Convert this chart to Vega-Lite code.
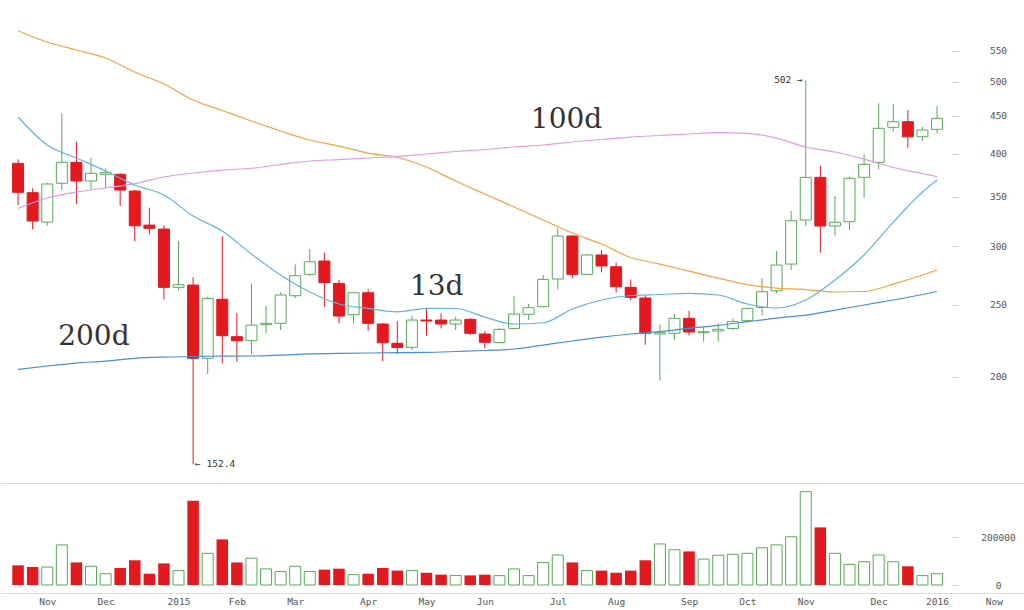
{
  "$schema": "https://vega.github.io/schema/vega-lite/v6.json",
  "padding": 0,
  "spacing": 0,
  "background": "white",
  "config": {
    "view": {"stroke": null},
    "axis": {"labelFont": "DejaVu Sans Mono", "labelFontSize": 9.5, "labelColor": "#555", "domainColor": "#ddd", "tickColor": "#ccc", "grid": false, "title": null}
  },
  "datasets": {
    "candles": [
      {"i":0,"o":388.0,"h":392.9,"l":340.9,"c":354.6,"v":82000},
      {"i":1,"o":354.2,"h":359.0,"l":316.1,"c":324.4,"v":75000},
      {"i":2,"o":323.3,"h":365.3,"l":319.6,"c":363.9,"v":75000},
      {"i":3,"o":364.7,"h":453.2,"l":357.1,"c":389.2,"v":167000},
      {"i":4,"o":389.2,"h":415.0,"l":342.0,"c":367.3,"v":94000},
      {"i":5,"o":367.3,"h":394.8,"l":357.9,"c":376.2,"v":78000},
      {"i":6,"o":375.0,"h":382.1,"l":359.0,"c":376.9,"v":47000},
      {"i":7,"o":375.0,"h":376.2,"l":339.8,"c":357.1,"v":71000},
      {"i":8,"o":356.0,"h":357.0,"l":304.8,"c":319.6,"v":103000},
      {"i":9,"o":320.3,"h":338.1,"l":311.2,"c":317.1,"v":47000},
      {"i":10,"o":316.4,"h":320.3,"l":254.4,"c":264.0,"v":90000},
      {"i":11,"o":264.0,"h":304.8,"l":261.8,"c":266.1,"v":60000},
      {"i":12,"o":265.9,"h":272.3,"l":152.4,"c":211.8,"v":351000},
      {"i":13,"o":211.8,"h":256.4,"l":201.7,"c":255.1,"v":132000},
      {"i":14,"o":254.4,"h":309.6,"l":208.5,"c":227.2,"v":190000},
      {"i":15,"o":226.5,"h":244.0,"l":209.5,"c":223.7,"v":94000},
      {"i":16,"o":223.7,"h":267.3,"l":214.6,"c":234.8,"v":112000},
      {"i":17,"o":235.1,"h":249.1,"l":228.9,"c":236.1,"v":67000},
      {"i":18,"o":236.1,"h":259.9,"l":231.2,"c":257.8,"v":56000},
      {"i":19,"o":257.2,"h":283.5,"l":255.1,"c":273.7,"v":78000},
      {"i":20,"o":274.9,"h":297.4,"l":273.4,"c":285.8,"v":56000},
      {"i":21,"o":286.5,"h":294.0,"l":248.6,"c":268.0,"v":64000},
      {"i":22,"o":267.3,"h":270.1,"l":236.1,"c":241.5,"v":68000},
      {"i":23,"o":242.5,"h":260.4,"l":236.1,"c":259.6,"v":43000},
      {"i":24,"o":259.6,"h":262.4,"l":230.7,"c":236.1,"v":47000},
      {"i":25,"o":235.6,"h":236.4,"l":210.0,"c":222.3,"v":71000},
      {"i":26,"o":221.9,"h":237.8,"l":214.6,"c":219.1,"v":60000},
      {"i":27,"o":219.1,"h":241.7,"l":217.3,"c":238.5,"v":60000},
      {"i":28,"o":238.5,"h":247.3,"l":227.2,"c":237.8,"v":51000},
      {"i":29,"o":238.5,"h":243.5,"l":232.4,"c":235.6,"v":43000},
      {"i":30,"o":235.6,"h":241.0,"l":231.2,"c":238.5,"v":40000},
      {"i":31,"o":239.0,"h":239.8,"l":227.7,"c":228.9,"v":40000},
      {"i":32,"o":228.4,"h":230.4,"l":218.4,"c":222.6,"v":43000},
      {"i":33,"o":222.4,"h":232.9,"l":221.9,"c":231.7,"v":39000},
      {"i":34,"o":232.4,"h":257.0,"l":231.7,"c":243.0,"v":67000},
      {"i":35,"o":242.8,"h":250.7,"l":238.5,"c":247.8,"v":39000},
      {"i":36,"o":248.6,"h":274.3,"l":248.1,"c":270.6,"v":94000},
      {"i":37,"o":270.9,"h":317.1,"l":262.4,"c":309.6,"v":125000},
      {"i":38,"o":309.6,"h":310.6,"l":271.5,"c":274.9,"v":94000},
      {"i":39,"o":274.9,"h":292.8,"l":274.3,"c":291.9,"v":60000},
      {"i":40,"o":291.9,"h":296.4,"l":276.6,"c":282.1,"v":60000},
      {"i":41,"o":281.4,"h":285.0,"l":259.9,"c":264.5,"v":51000},
      {"i":42,"o":264.0,"h":270.6,"l":253.8,"c":255.9,"v":60000},
      {"i":43,"o":255.4,"h":257.8,"l":220.9,"c":228.9,"v":103000},
      {"i":44,"o":228.4,"h":235.2,"l":197.7,"c":229.3,"v":171000},
      {"i":45,"o":228.9,"h":243.0,"l":224.1,"c":239.8,"v":147000},
      {"i":46,"o":239.8,"h":245.4,"l":227.3,"c":229.8,"v":140000},
      {"i":47,"o":229.3,"h":233.6,"l":223.0,"c":230.0,"v":108000},
      {"i":48,"o":230.5,"h":236.1,"l":223.0,"c":231.7,"v":124000},
      {"i":49,"o":232.4,"h":239.5,"l":231.2,"c":237.3,"v":128000},
      {"i":50,"o":238.0,"h":247.6,"l":236.8,"c":247.3,"v":132000},
      {"i":51,"o":248.1,"h":271.5,"l":242.2,"c":260.4,"v":155000},
      {"i":52,"o":261.2,"h":295.5,"l":259.1,"c":282.9,"v":167000},
      {"i":53,"o":283.8,"h":334.6,"l":278.6,"c":324.7,"v":201000},
      {"i":54,"o":325.4,"h":502.0,"l":319.6,"c":371.5,"v":389000},
      {"i":55,"o":371.5,"h":385.1,"l":294.0,"c":319.4,"v":240000},
      {"i":56,"o":319.4,"h":350.5,"l":309.9,"c":323.1,"v":132000},
      {"i":57,"o":323.7,"h":372.2,"l":315.4,"c":370.4,"v":86000},
      {"i":58,"o":371.5,"h":399.0,"l":348.7,"c":386.8,"v":97000},
      {"i":59,"o":389.2,"h":467.5,"l":380.9,"c":432.6,"v":125000},
      {"i":60,"o":433.9,"h":466.5,"l":428.1,"c":441.5,"v":97000},
      {"i":61,"o":441.5,"h":457.9,"l":407.3,"c":421.4,"v":78000},
      {"i":62,"o":421.4,"h":434.7,"l":416.2,"c":430.3,"v":39000},
      {"i":63,"o":431.2,"h":463.6,"l":425.9,"c":446.2,"v":47000}
    ],
    "ma": [
      {"i":0,"ma13":448,"ma50":585.7,"ma100":337.4,"ma200":204.6},
      {"i":2,"ma13":410.7,"ma50":565.5,"ma100":348.4,"ma200":206.8},
      {"i":4,"ma13":394.5,"ma50":551.7,"ma100":354.9,"ma200":208.7},
      {"i":6,"ma13":378.9,"ma50":538.1,"ma100":359.4,"ma200":210},
      {"i":8,"ma13":362.7,"ma50":515.2,"ma100":364.4,"ma200":211.8},
      {"i":10,"ma13":351.6,"ma50":496.4,"ma100":371.9,"ma200":212.6},
      {"i":12,"ma13":329.4,"ma50":472.3,"ma100":376.5,"ma200":213},
      {"i":14,"ma13":314.4,"ma50":457.2,"ma100":380,"ma200":213.2},
      {"i":16,"ma13":292.8,"ma50":442.5,"ma100":382.1,"ma200":213.3},
      {"i":18,"ma13":274.3,"ma50":429,"ma100":386.6,"ma200":213.9},
      {"i":20,"ma13":260.2,"ma50":417.1,"ma100":390.8,"ma200":214.7},
      {"i":22,"ma13":250.7,"ma50":409.4,"ma100":392.6,"ma200":215.1},
      {"i":24,"ma13":247.3,"ma50":400.6,"ma100":394.5,"ma200":215.3},
      {"i":26,"ma13":244.7,"ma50":395.1,"ma100":396.3,"ma200":215.5},
      {"i":28,"ma13":247.3,"ma50":383.6,"ma100":399.4,"ma200":215.7},
      {"i":30,"ma13":247.2,"ma50":367.3,"ma100":402.5,"ma200":216.3},
      {"i":32,"ma13":240.7,"ma50":352.7,"ma100":405,"ma200":217},
      {"i":34,"ma13":235.6,"ma50":338.8,"ma100":408.2,"ma200":218},
      {"i":36,"ma13":236.5,"ma50":325.4,"ma100":410.7,"ma200":220.7},
      {"i":38,"ma13":246.8,"ma50":312.5,"ma100":414.6,"ma200":223.5},
      {"i":40,"ma13":253.8,"ma50":302,"ma100":417.8,"ma200":226.2},
      {"i":42,"ma13":257.4,"ma50":289.6,"ma100":421,"ma200":228.4},
      {"i":44,"ma13":258.2,"ma50":283.8,"ma100":423,"ma200":230.1},
      {"i":46,"ma13":259.1,"ma50":277.7,"ma100":425,"ma200":232.4},
      {"i":48,"ma13":257.8,"ma50":271.7,"ma100":426.7,"ma200":234.6},
      {"i":50,"ma13":250.7,"ma50":266.3,"ma100":425.7,"ma200":237.3},
      {"i":52,"ma13":247.6,"ma50":263.4,"ma100":419.7,"ma200":240},
      {"i":54,"ma13":253.8,"ma50":262.2,"ma100":408.2,"ma200":242.2},
      {"i":56,"ma13":270.1,"ma50":260.2,"ma100":401.9,"ma200":246},
      {"i":58,"ma13":291.9,"ma50":260.6,"ma100":393.2,"ma200":249.9},
      {"i":60,"ma13":323.3,"ma50":266.7,"ma100":383,"ma200":253.8},
      {"i":62,"ma13":354.9,"ma50":274.3,"ma100":375.9,"ma200":258.2},
      {"i":63,"ma13":368.4,"ma50":278.6,"ma100":372.4,"ma200":260.6}
    ],
    "labels": [
      {"i":5.2,"p":226.2,"t":"200d"},
      {"i":28.7,"p":264.2,"t":"13d"},
      {"i":37.6,"p":443.9,"t":"100d"}
    ],
    "notes": [
      {"i":12,"p":152.4,"t":"← 152.4"},
      {"i":54,"p":502,"t":"502 →"}
    ]
  },
  "vconcat": [
    {
      "width": 1024,
      "height": 483,
      "layer": [
        {
          "data": {"name": "candles"},
          "mark": {"type": "rule", "strokeWidth": 1},
          "encoding": {
            "x": {"field": "i", "type": "quantitative", "scale": {"domain": [-0.896, 68.62], "nice": false, "zero": false}, "axis": {"labels": false, "ticks": false, "domain": true, "domainColor": "#ddd", "title": null}},
            "y": {"field": "l", "type": "quantitative", "scale": {"type": "log", "domain": [143.8, 644.3], "nice": false, "zero": false}, "axis": {"orient": "right", "offset": -72, "values": [200,250,300,350,400,450,500,550], "tickSize": 6, "tickColor": "#ccc", "domain": false, "labelAlign": "center", "labelBaseline": "middle", "labelPadding": 40, "title": null}},
            "y2": {"field": "h"},
            "color": {"condition": {"test": "datum.c >= datum.o", "value": "#5aa95a"}, "value": "#e3191f"}
          }
        },
        {
          "data": {"name": "candles"},
          "mark": {"type": "bar", "width": 11, "strokeWidth": 1},
          "encoding": {
            "x": {"field": "i", "type": "quantitative"},
            "y": {"field": "o", "type": "quantitative"},
            "y2": {"field": "c"},
            "fill": {"condition": {"test": "datum.c >= datum.o", "value": "white"}, "value": "#e3191f"},
            "stroke": {"condition": {"test": "datum.c >= datum.o", "value": "#5aa95a"}, "value": "#e3191f"}
          }
        },
        {
          "data": {"name": "ma"},
          "mark": {"type": "line", "color": "#f4a340", "strokeWidth": 1.2, "interpolate": "monotone"},
          "encoding": {"x": {"field": "i", "type": "quantitative"}, "y": {"field": "ma50", "type": "quantitative"}}
        },
        {
          "data": {"name": "ma"},
          "mark": {"type": "line", "color": "#e39be6", "strokeWidth": 1.2, "interpolate": "monotone"},
          "encoding": {"x": {"field": "i", "type": "quantitative"}, "y": {"field": "ma100", "type": "quantitative"}}
        },
        {
          "data": {"name": "ma"},
          "mark": {"type": "line", "color": "#4a8fd3", "strokeWidth": 1.2, "interpolate": "monotone"},
          "encoding": {"x": {"field": "i", "type": "quantitative"}, "y": {"field": "ma200", "type": "quantitative"}}
        },
        {
          "data": {"name": "ma"},
          "mark": {"type": "line", "color": "#5fb6e4", "strokeWidth": 1.2, "interpolate": "monotone"},
          "encoding": {"x": {"field": "i", "type": "quantitative"}, "y": {"field": "ma13", "type": "quantitative"}}
        },
        {
          "data": {"name": "labels"},
          "mark": {"type": "text", "font": "DejaVu Serif", "fontSize": 28, "color": "#333", "align": "center", "baseline": "middle"},
          "encoding": {"x": {"field": "i", "type": "quantitative"}, "y": {"field": "p", "type": "quantitative"}, "text": {"field": "t"}}
        },
        {
          "data": {"name": "notes"},
          "transform": [{"filter": "datum.i < 30"}],
          "mark": {"type": "text", "font": "DejaVu Sans Mono", "fontSize": 9.5, "color": "#333", "align": "left", "baseline": "middle", "dx": 2},
          "encoding": {"x": {"field": "i", "type": "quantitative"}, "y": {"field": "p", "type": "quantitative"}, "text": {"field": "t"}}
        },
        {
          "data": {"name": "notes"},
          "transform": [{"filter": "datum.i > 30"}],
          "mark": {"type": "text", "font": "DejaVu Sans Mono", "fontSize": 9.5, "color": "#333", "align": "right", "baseline": "middle", "dx": -3},
          "encoding": {"x": {"field": "i", "type": "quantitative"}, "y": {"field": "p", "type": "quantitative"}, "text": {"field": "t"}}
        }
      ]
    },
    {
      "width": 1024,
      "height": 110,
      "resolve": {"axis": {"x": "independent"}},
      "layer": [
        {
          "data": {"name": "candles"},
          "transform": [{"filter": "datum.c >= datum.o"}],
          "mark": {"type": "bar", "width": 11, "fill": "white", "stroke": "#5aa95a", "strokeWidth": 1},
          "encoding": {
            "x": {"field": "i", "type": "quantitative", "scale": {"domain": [-0.896, 68.62], "nice": false, "zero": false}, "axis": {"orient": "bottom", "values": [2,6,11,15,19,24,28,32,37,41,46,50,54,59,63,66.9], "labelExpr": "['Nov','Dec','2015','Feb','Mar','Apr','May','Jun','Jul','Aug','Sep','Oct','Nov','Dec','2016','Now'][indexof([2,6,11,15,19,24,28,32,37,41,46,50,54,59,63,66.9], datum.value)]", "ticks": false, "tickSize": 0, "labelPadding": 8, "labelBaseline": "middle", "labelAlign": "center", "labelFlush": false, "labelOverlap": false, "domain": true, "domainColor": "#ddd", "title": null}},
            "y": {"field": "v", "type": "quantitative", "scale": {"domain": [-33333, 425000], "nice": false, "zero": false}, "axis": {"orient": "right", "offset": -72, "values": [0, 200000], "format": "d", "tickSize": 6, "tickColor": "#ccc", "domain": false, "labelAlign": "center", "labelBaseline": "middle", "labelPadding": 40, "title": null}}
          }
        },
        {
          "data": {"name": "candles"},
          "transform": [{"filter": "datum.c < datum.o"}],
          "mark": {"type": "bar", "width": 11.5, "fill": "#e3191f"},
          "encoding": {
            "x": {"field": "i", "type": "quantitative", "axis": {"orient": "bottom", "offset": 15, "labels": false, "ticks": false, "domain": true, "domainColor": "#ddd", "title": null}},
            "y": {"field": "v", "type": "quantitative"}
          }
        }
      ]
    }
  ]
}
